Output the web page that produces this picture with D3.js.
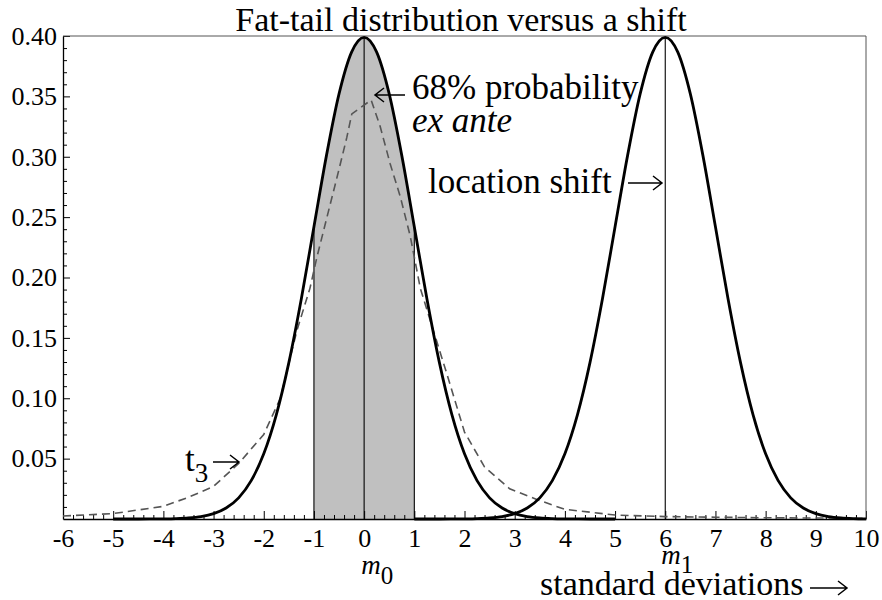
<!DOCTYPE html>
<html><head><meta charset="utf-8">
<script src="https://cdn.jsdelivr.net/npm/d3@7"></script>
<style>
body{margin:0;background:#fff}
svg{display:block}
text{font-family:"Liberation Serif","Times New Roman",serif;fill:#000}
</style>
</head><body>
<svg id="c" width="882" height="600"></svg>
<script>
// ---------- data ----------
const xTicks = [-6,-5,-4,-3,-2,-1,0,1,2,3,4,5,6,7,8,9,10];
const xTickLabels = ["-6","-5","-4","-3","-2","-1","0","1","2","3","4","5","6","7","8","9","10"];
const yTicks = [0.05,0.10,0.15,0.20,0.25,0.30,0.35,0.40];
const yTickLabels = ["0.05","0.10","0.15","0.20","0.25","0.30","0.35","0.40"];

// N(0,1) density, location m0
const normX = [-5,-4.75,-4.5,-4.25,-4,-3.75,-3.5,-3.25,-3,-2.75,-2.5,-2.25,-2,-1.75,-1.5,-1.25,-1,-0.75,-0.5,-0.25,0,
               0.25,0.5,0.75,1,1.25,1.5,1.75,2,2.25,2.5,2.75,3,3.25,3.5,3.75,4,4.25,4.5,4.75,5];
const normY = [0.0000015,0.0000051,0.000016,0.000047,0.000134,0.000353,0.000873,0.002029,0.004432,0.009094,0.017528,0.031740,0.053991,0.086277,0.129518,0.182649,0.241971,0.301137,0.352065,0.386668,0.398942,
               0.386668,0.352065,0.301137,0.241971,0.182649,0.129518,0.086277,0.053991,0.031740,0.017528,0.009094,0.004432,0.002029,0.000873,0.000353,0.000134,0.000047,0.000016,0.0000051,0.0000015];

// shifted density, location m1
const shiftX = [1,1.25,1.5,1.75,2,2.25,2.5,2.75,3,3.25,3.5,3.75,4,4.25,4.5,4.75,5,5.25,5.5,5.75,6,
                6.25,6.5,6.75,7,7.25,7.5,7.75,8,8.25,8.5,8.75,9,9.25,9.5,9.75,10];
const shiftY = [0.0000015,0.0000051,0.000016,0.000047,0.000134,0.000353,0.000873,0.002029,0.004432,0.009094,0.017528,0.031740,0.053991,0.086277,0.129518,0.182649,0.241971,0.301137,0.352065,0.386668,0.398942,
                0.386668,0.352065,0.301137,0.241971,0.182649,0.129518,0.086277,0.053991,0.031740,0.017528,0.009094,0.004432,0.002029,0.000873,0.000353,0.000134];

// fat-tailed t3 curve
const tX = [-6,-5,-4,-3.5,-3,-2.5,-2,-1.67,-1.34,-1.08,-0.94,-0.74,-0.54,-0.345,-0.245,0.14,0.32,0.52,0.72,0.92,1.12,1.38,1.65,2.0,2.4,2.9,3.45,4,5,6,7,8,9,10];
const tY = [0.0025,0.0045,0.0105,0.018,0.027,0.046,0.07,0.1,0.156,0.191,0.217,0.25,0.283,0.316,0.3355,0.347,0.325,0.294,0.267,0.234,0.191,0.156,0.12,0.072,0.043,0.025,0.016,0.008,0.0033,0.002,0.0015,0.001,0.0008,0.0006];

const band = [-1, 1];
const m0 = 0, m1 = 6;

// ---------- layout ----------
const svg = d3.select("#c");
const L = 63, R = 866, T = 36, B = 519;
const x = d3.scaleLinear().domain([-6,10]).range([L,R]);
const y = d3.scaleLinear().domain([0,0.4]).range([B,T]);

const normPts = normX.map((v,i)=>[v,normY[i]]);
const shiftPts = shiftX.map((v,i)=>[v,shiftY[i]]);
const tPts = tX.map((v,i)=>[v,tY[i]]);

// shaded band
const bandPts = normPts.filter(p=>p[0]>=band[0]&&p[0]<=band[1]);
svg.append("path")
  .attr("d", d3.area().x(d=>x(d[0])).y0(y(0)).y1(d=>y(d[1])).curve(d3.curveMonotoneX)(bandPts))
  .attr("fill","#c0c0c0");

// vertical lines
const vlines = [
  [band[0], normY[normX.indexOf(band[0])]],
  [m0, normY[normX.indexOf(m0)]],
  [band[1], normY[normX.indexOf(band[1])]],
  [m1, shiftY[shiftX.indexOf(m1)]]
];
svg.selectAll("line.v").data(vlines).join("line")
  .attr("x1",d=>x(d[0])).attr("x2",d=>x(d[0]))
  .attr("y1",y(0)).attr("y2",d=>y(d[1]))
  .attr("stroke","#000").attr("stroke-width",1.1);

// axes
const gx = svg.append("g").attr("transform",`translate(0,${B})`);
gx.call(d3.axisBottom(x).tickValues(xTicks).tickFormat((d,i)=>xTickLabels[i]).tickSizeInner(-8).tickSizeOuter(0).tickPadding(10));
const xMinor = d3.range(-6,10.001,0.2).filter(v=>Math.abs(v-Math.round(v))>1e-6);
svg.append("g").attr("transform",`translate(0,${B})`)
  .call(d3.axisBottom(x).tickValues(xMinor).tickFormat("").tickSizeInner(-4).tickSizeOuter(0))
  .select(".domain").remove();

const gy = svg.append("g").attr("transform",`translate(${L},0)`);
gy.call(d3.axisLeft(y).tickValues(yTicks).tickFormat((d,i)=>yTickLabels[i]).tickSizeInner(-7).tickSizeOuter(0).tickPadding(6));
const yMinor = d3.range(0.01,0.4,0.01).filter(v=>Math.abs(v/0.05-Math.round(v/0.05))>1e-6);
svg.append("g").attr("transform",`translate(${L},0)`)
  .call(d3.axisLeft(y).tickValues(yMinor).tickFormat("").tickSizeInner(-4).tickSizeOuter(0))
  .select(".domain").remove();

svg.selectAll(".tick text").attr("font-size",26).attr("font-family","Liberation Serif");
svg.selectAll(".domain").attr("stroke","#000").attr("stroke-width",1.3);
svg.selectAll(".tick line").attr("stroke","#000").attr("stroke-width",1);

// frame top/right
svg.append("path").attr("d",`M${L},${T}H${R}V${B}`).attr("fill","none").attr("stroke","#555").attr("stroke-width",1);

// t3 dashed
svg.append("path")
  .attr("d", d3.line().x(d=>x(d[0])).y(d=>y(d[1]))(tPts))
  .attr("fill","none").attr("stroke","#555").attr("stroke-width",1.6).attr("stroke-dasharray","8,5");

// normal curves
const line = d3.line().x(d=>x(d[0])).y(d=>y(d[1])).curve(d3.curveMonotoneX);
svg.append("path").attr("d",line(normPts)).attr("fill","none").attr("stroke","#000").attr("stroke-width",2.8).attr("stroke-linejoin","round");
svg.append("path").attr("d",line(shiftPts)).attr("fill","none").attr("stroke","#000").attr("stroke-width",2.8).attr("stroke-linejoin","round");

// ---------- texts ----------
const fs = 35;
svg.append("text").attr("x",461).attr("y",31).attr("text-anchor","middle").attr("font-size",34)
  .text("Fat-tail distribution versus a shift");

function arrow(tail, tip, yy){
  const dir = Math.sign(tip-tail);
  svg.append("path")
    .attr("d",`M${tail},${yy}H${tip}M${tip-dir*9},${yy-7}L${tip},${yy}L${tip-dir*9},${yy+7}`)
    .attr("fill","none").attr("stroke","#000").attr("stroke-width",1.5).attr("stroke-linejoin","miter");
}

arrow(405, 375, 95);
svg.append("text").attr("x",412).attr("y",99).attr("font-size",fs).text("68% probability");
svg.append("text").attr("x",412).attr("y",132).attr("font-size",fs).attr("font-style","italic").text("ex ante");

svg.append("text").attr("x",428).attr("y",193).attr("font-size",fs).text("location shift");
arrow(628, 662, 183);

const t3 = svg.append("text").attr("x",185).attr("y",471).attr("font-size",fs);
t3.append("tspan").text("t");
t3.append("tspan").attr("font-size",27).attr("dy",11).text("3");
arrow(213, 239, 462);

const mt0 = svg.append("text").attr("x",x(m0)-3).attr("y",574).attr("font-size",27);
mt0.append("tspan").attr("font-style","italic").text("m");
mt0.append("tspan").attr("font-size",25).attr("dy",10).text("0");

const mt1 = svg.append("text").attr("x",x(m1)-4).attr("y",564).attr("font-size",27);
mt1.append("tspan").attr("font-style","italic").text("m");
mt1.append("tspan").attr("font-size",25).attr("dy",9).text("1");

svg.append("text").attr("x",540).attr("y",595).attr("font-size",34).text("standard deviations");
arrow(810, 847, 588);
</script>
</body></html>
